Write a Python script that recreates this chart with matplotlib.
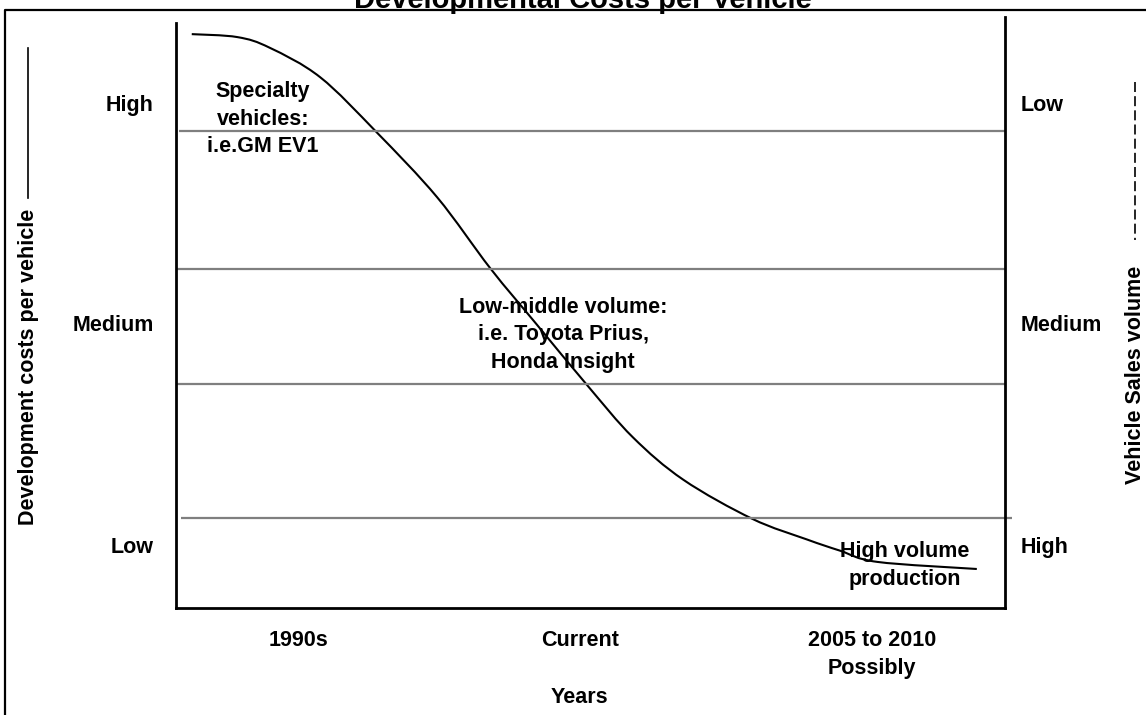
import matplotlib
matplotlib.use("Agg")
import numpy as np
import matplotlib.pyplot as plt
from matplotlib.lines import Line2D
from matplotlib.path import Path
from matplotlib.patches import PathPatch

plt.rcParams['font.family'] = ['Liberation Sans', 'DejaVu Sans']
plt.rcParams['font.weight'] = 'bold'
plt.rcParams['axes.labelweight'] = 'bold'

# time periods along the bottom (0-100 scale)
periods = ["1990s", "Current", "2005 to 2010\nPossibly"]
period_pos = [14.8, 48.7, 84.0]

# cost levels (left) and sales volume levels (right), 0-100 scale
cost_levels = ["Low", "Medium", "High"]
volume_levels = ["High", "Medium", "Low"]
level_pos = [10.7, 48.2, 85.4]
band_edges = [15.2, 37.9, 57.4, 80.7]

# development cost per vehicle over time
curve_x = [1.9, 7.4, 11.3, 17.4, 24.2, 31.5, 37.9, 43.5, 49.6,
           55.1, 61.2, 69.5, 76.1, 80.1, 84.6, 96.6]
curve_y = [97.1, 96.6, 94.8, 89.8, 80.5, 69.5, 57.5, 48.0, 37.7,
           28.9, 21.7, 15.1, 11.6, 9.7, 7.8, 6.6]

notes = ["Specialty\nvehicles:\ni.e.GM EV1",
         "Low-middle volume:\ni.e. Toyota Prius,\nHonda Insight",
         "High volume\nproduction"]
note_x = [10.5, 46.7, 87.9]
note_y = [82.7, 46.2, 7.2]

W, H = 1146, 715
FS = 15.5


def smooth_path(xs, ys):
    # Catmull-Rom through the points, written as cubic bezier segments
    p = np.column_stack([xs, ys])
    verts = [p[0]]
    codes = [Path.MOVETO]
    for i in range(len(p) - 1):
        p0 = p[i - 1] if i > 0 else p[i]
        p3 = p[i + 2] if i + 2 < len(p) else p[i + 1]
        c1 = p[i] + (p[i + 1] - p0) / 6
        c2 = p[i + 1] - (p3 - p[i]) / 6
        verts += [c1, c2, p[i + 1]]
        codes += [Path.CURVE4] * 3
    return Path(verts, codes)


fig = plt.figure(figsize=(W / 100, H / 100), dpi=100)
ax = fig.add_axes([176 / W, 1 - 608 / H, (1005 - 176) / W, (608 - 17) / H])
ax.set_xlim(0, 100)
ax.set_ylim(0, 100)

ax.spines['top'].set_visible(False)
for side in ['left', 'right', 'bottom']:
    ax.spines[side].set_linewidth(2)
    ax.spines[side].set_color('black')
ax.spines['left'].set_bounds(0, 99)

ax.hlines(band_edges, [0.6, 0, 0, 0.4], [100.8, 100, 100, 100],
          colors='#7f7f7f', linewidth=1.6, clip_on=False)

ax.add_patch(PathPatch(smooth_path(curve_x, curve_y), facecolor='none',
                       edgecolor='black', linewidth=1.5, clip_on=False))

for txt, x, y in zip(notes, note_x, note_y):
    ax.text(x, y, txt, ha='center', va='center', fontsize=FS,
            linespacing=1.42)

ax.set_xticks(period_pos, periods)
ax.set_yticks(level_pos, cost_levels)
ax.tick_params(axis='x', length=0, pad=16, labelsize=FS)
ax.tick_params(axis='y', length=0, pad=16, labelsize=FS)
for lab in ax.get_xticklabels():
    lab.set_linespacing(1.45)

ax2 = ax.twinx()
ax2.set_ylim(0, 100)
for side in ax2.spines:
    ax2.spines[side].set_visible(False)
ax2.set_yticks(level_pos, volume_levels)
ax2.tick_params(axis='y', length=0, pad=11, labelsize=FS)

ax.set_xlabel("Years", fontsize=FS, va='center')
ax.xaxis.set_label_coords(0.487, -0.151)
ax.set_ylabel("Development costs per vehicle", fontsize=FS, va='center')
ax.yaxis.set_label_coords(-0.1785, 0.408)
ax2.set_ylabel("Vehicle Sales volume", fontsize=FS, va='center')
ax2.yaxis.set_label_coords(1.157, 0.394)

# line keys next to the axis titles
fig.add_artist(Line2D([28 / W, 28 / W], [1 - 48 / H, 1 - 198 / H],
                      transform=fig.transFigure, color='black', linewidth=1.2))
fig.add_artist(Line2D([1135 / W, 1135 / W], [1 - 82 / H, 1 - 240 / H],
                      transform=fig.transFigure, color='black', linewidth=1.2,
                      dashes=(6, 2.5)))

# outer border
fig.add_artist(Line2D([5 / W, 5 / W, 1.0], [0.0, 1 - 10 / H, 1 - 10 / H],
                      transform=fig.transFigure, color='black', linewidth=1.6))

fig.text(583 / W, 1 - 8 / H, "Developmental Costs per Vehicle",
         ha='center', va='baseline', fontsize=21)

fig.savefig("out.png", dpi=100)
